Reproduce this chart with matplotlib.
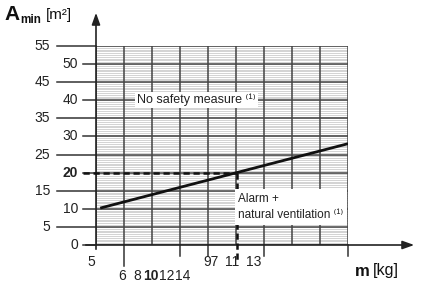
import matplotlib
matplotlib.use("Agg")
import matplotlib.pyplot as plt
import numpy as np

# ---- data ----
y_major = [0, 5, 10, 15, 20, 25, 30, 35, 40, 45, 50, 55]
y_labels_left = ["55", "45", "35", "25", "15", "5"]
y_labels_right = ["50", "40", "30", "20", "10", "0"]
x_labels_row1 = ["5", "97", "11", "13"]
x_labels_row2 = ["6", "8", "10", "12", "14"]
line_x = [0.15, 9.0]      # grid-column units
line_y = [10.2, 28.0]     # A_min [m²]
marked_y = 20
n_cols = 9

FAM = ["Liberation Sans", "DejaVu Sans"]

W, H = 434, 284
fig = plt.figure(figsize=(W / 100, H / 100), dpi=100)
L, R, B, T = 96, 348, 245, 46
ax = fig.add_axes([L / W, 1 - B / H, (R - L) / W, (B - T) / H])
ax.set_xlim(0, n_cols)
ax.set_ylim(0, 55)
ax.axis("off")
sx = n_cols / (R - L)        # data units per px (x)
sy = 55 / (B - T)            # data units per px (y)

def px(xp):
    return (xp - L) * sx

def py(yp):
    return (B - yp) * sy

# fine grid
for yv in np.arange(0, 55.01, 0.5):
    ax.plot([0, n_cols], [yv, yv], color="#cccccc", lw=0.6, zorder=1)
for yv in y_major:
    ax.plot([0, n_cols], [yv, yv], color="#444444", lw=1.1, zorder=2)
for xv in range(0, n_cols + 1):
    ax.plot([xv, xv], [0, 55], color="#444444", lw=1.1, zorder=2)

# long / short tick lines left of the y-axis
for i, yv in enumerate(y_major[::-1]):
    if i % 2 == 0:
        ax.plot([px(57), 0], [yv, yv], color="#333333", lw=1.1, clip_on=False)
    else:
        ax.plot([px(83), 0], [yv, yv], color="#333333", lw=1.1, clip_on=False)

# y tick labels
for lab, yv in zip(y_labels_left, [55, 45, 35, 25, 15, 5]):
    ax.text(px(50), yv, lab, ha="right", va="center", fontsize=10,
            color="#222222", family=FAM, clip_on=False)
for lab, yv in zip(y_labels_right, [50, 40, 30, 20, 10, 0]):
    ax.text(px(78), yv, lab, ha="right", va="center", fontsize=10,
            color="#222222", family=FAM, clip_on=False,
            fontweight="bold" if lab == "20" else "normal")

# axes arrows
ax.annotate("", xy=(0, py(10)), xytext=(0, py(252)),
            arrowprops=dict(arrowstyle="-|>,head_length=0.7,head_width=0.25",
                            color="#222222", lw=1.2), annotation_clip=False)
ax.annotate("", xy=(px(417), 0), xytext=(px(83), 0),
            arrowprops=dict(arrowstyle="-|>,head_length=0.7,head_width=0.25",
                            color="#222222", lw=1.2), annotation_clip=False)
# ticks below x axis
for xv in [3, 4, 6, 9]:
    ax.plot([xv, xv], [0, py(256)], color="#333333", lw=1.1, clip_on=False)
ax.plot([1, 1], [0, py(266)], color="#333333", lw=1.1, clip_on=False)

# x tick labels
for lab, xp in zip(x_labels_row1, [91, 211, 232, 254]):
    ax.text(px(xp), py(262), lab, ha="center", va="center", fontsize=10,
            color="#222222", family=FAM, clip_on=False)
for lab, xp in zip(x_labels_row2, [122, 137, 150.5, 166.5, 183]):
    ax.text(px(xp), py(276), lab, ha="center", va="center", fontsize=10,
            color="#222222", family=FAM, clip_on=False,
            fontweight="bold" if lab == "10" else "normal")

# main line
ax.plot(line_x, line_y, color="#111111", lw=2.0, zorder=5,
        solid_capstyle="butt")

# dashed markers
x_cross = line_x[0] + (marked_y - line_y[0]) / (line_y[1] - line_y[0]) * (line_x[1] - line_x[0])
ax.plot([px(83), x_cross], [marked_y, marked_y], color="#111111", lw=1.8,
        ls=(0, (2.5, 1.5)), zorder=6, clip_on=False)
ax.plot([x_cross, x_cross], [marked_y, py(262)], color="#111111", lw=1.8,
        ls=(0, (2.5, 1.5)), zorder=6, clip_on=False)

# text boxes
ax.text(px(137), py(100), "No safety measure \u207d\u00b9\u207e", ha="left", va="center",
        fontsize=9, color="#222222", family=FAM, zorder=7,
        bbox=dict(facecolor="white", edgecolor="none", pad=1.5))
ax.text(px(238), py(207), "Alarm +\nnatural ventilation \u207d\u00b9\u207e", ha="left",
        va="center", fontsize=8.5, color="#222222", family=FAM,
        zorder=7, linespacing=1.5,
        bbox=dict(facecolor="white", edgecolor="none", pad=2.5))

# axis titles
fig.text(4 / W, 1 - 15 / H, "A", ha="left", va="center",
         fontsize=15, fontweight="bold", color="#111111", family=FAM)
fig.text(20 / W, 1 - 20 / H, "min", ha="left", va="center",
         fontsize=8.5, fontweight="bold", color="#111111", family=FAM)
fig.text(46 / W, 1 - 15 / H, "[m\u00b2]", ha="left", va="center", fontsize=11,
         color="#111111", family=FAM)
fig.text(355 / W, 1 - 271 / H, "m", ha="left", va="center", fontsize=12,
         fontweight="bold", color="#111111", family=FAM)
fig.text(373 / W, 1 - 270 / H, "[kg]", ha="left", va="center", fontsize=11.5,
         color="#111111", family=FAM)

fig.savefig("out.png", dpi=100, facecolor="white")
